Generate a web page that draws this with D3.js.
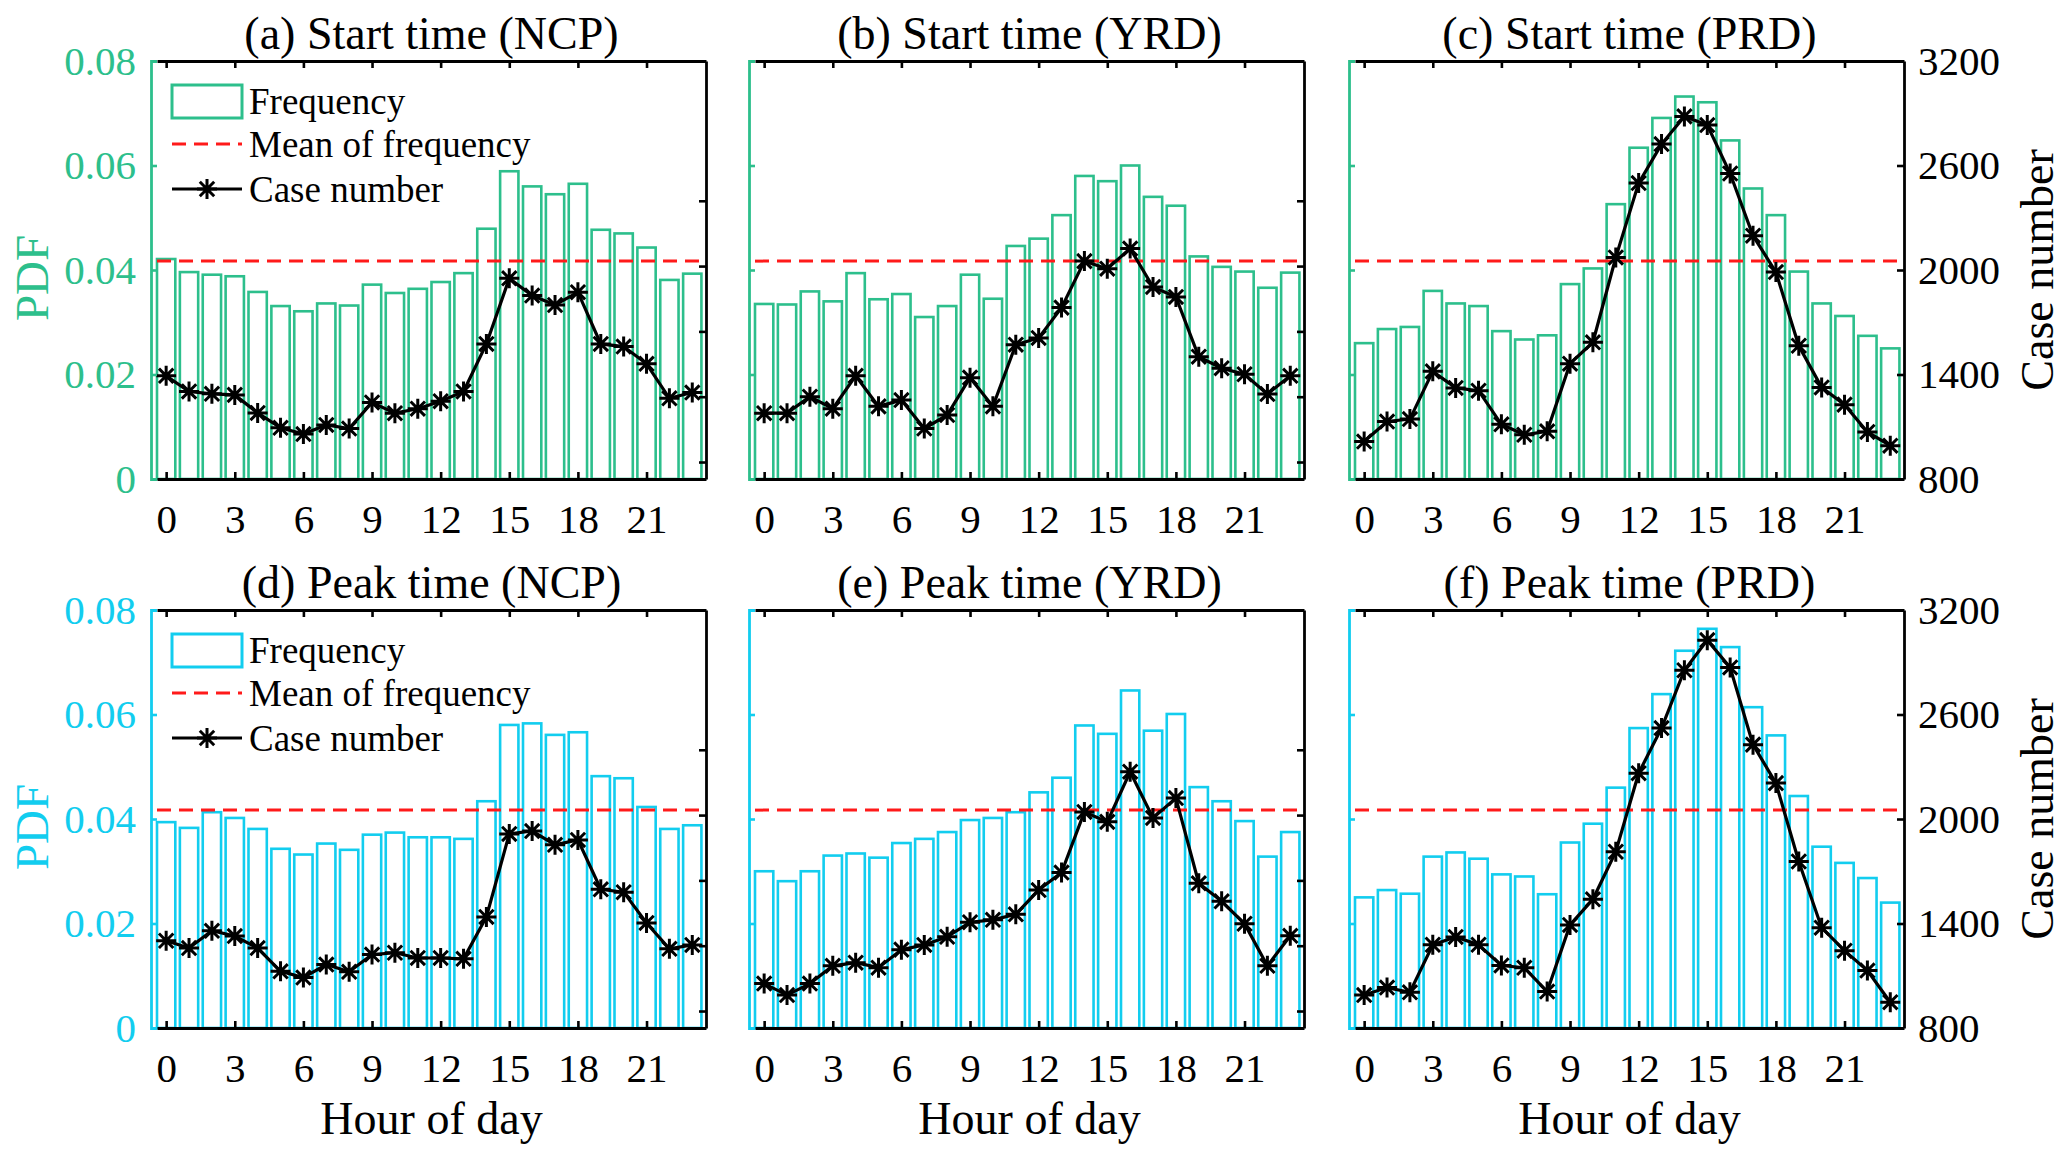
<!DOCTYPE html>
<html>
<head>
<meta charset="utf-8">
<script src="https://cdn.jsdelivr.net/npm/d3@7"></script>
<style>
  body { margin: 0; background: #fff; }
  text { font-family: "Liberation Serif", "Times New Roman", serif; }
</style>
</head>
<body>
<svg id="chart"></svg>
<script>
// hours of the day (categories)
const hours = [0,1,2,3,4,5,6,7,8,9,10,11,12,13,14,15,16,17,18,19,20,21,22,23];
const xTicks = [0,3,6,9,12,15,18,21];
const pdfTicks = [0, 0.02, 0.04, 0.06, 0.08];
const caseTicksShown = [800, 1400, 2000, 2600, 3200];
const caseTicksHidden = [500, 750, 1000, 1250, 1500];
const meanFreq = 0.0417;

const titles = ["(a) Start time (NCP)", "(b) Start time (YRD)", "(c) Start time (PRD)",
                "(d) Peak time (NCP)", "(e) Peak time (YRD)", "(f) Peak time (PRD)"];

// PDF of frequency
const pdfStartNCP = [0.0421,0.0396,0.0391,0.0388,0.0358,0.0331,0.0321,0.0336,0.0332,0.0372,0.0356,0.0364,0.0377,0.0394,0.0479,0.0589,0.0560,0.0545,0.0565,0.0477,0.0470,0.0443,0.0381,0.0393];
const pdfStartYRD = [0.0335,0.0334,0.0359,0.0340,0.0394,0.0344,0.0354,0.0310,0.0331,0.0391,0.0345,0.0446,0.0460,0.0505,0.0580,0.0570,0.0600,0.0540,0.0523,0.0426,0.0406,0.0397,0.0366,0.0395];
const pdfStartPRD = [0.0260,0.0287,0.0291,0.0360,0.0336,0.0331,0.0283,0.0267,0.0275,0.0373,0.0403,0.0526,0.0634,0.0691,0.0732,0.0721,0.0648,0.0556,0.0505,0.0397,0.0336,0.0312,0.0274,0.0250];
const pdfPeakNCP  = [0.0394,0.0383,0.0413,0.0402,0.0381,0.0343,0.0332,0.0353,0.0341,0.0370,0.0374,0.0365,0.0365,0.0362,0.0434,0.0580,0.0583,0.0561,0.0566,0.0482,0.0478,0.0423,0.0381,0.0388];
const pdfPeakYRD  = [0.0300,0.0281,0.0300,0.0330,0.0334,0.0326,0.0354,0.0362,0.0375,0.0398,0.0402,0.0413,0.0451,0.0479,0.0579,0.0563,0.0646,0.0569,0.0601,0.0461,0.0434,0.0396,0.0328,0.0375];
const pdfPeakPRD  = [0.0250,0.0264,0.0257,0.0328,0.0336,0.0324,0.0294,0.0290,0.0256,0.0355,0.0391,0.0460,0.0574,0.0639,0.0722,0.0764,0.0729,0.0614,0.0560,0.0444,0.0347,0.0316,0.0287,0.0240];

// case number
const caseStartNCP = [830,770,761,757,688,631,607,642,628,728,687,704,733,770,952,1203,1137,1101,1150,952,942,876,744,766];
const caseStartYRD = [687,687,750,704,830,713,737,628,680,823,713,949,975,1091,1269,1240,1317,1170,1132,903,859,836,760,830];
const caseStartPRD = [1015,1130,1144,1418,1323,1307,1114,1054,1074,1462,1585,2072,2499,2723,2882,2832,2554,2197,1988,1565,1326,1227,1070,991];
const casePeakNCP  = [769,741,807,787,741,652,628,678,650,716,723,703,703,700,860,1178,1189,1136,1155,966,955,837,738,753];
const casePeakYRD  = [605,561,605,673,685,666,735,753,784,840,849,870,963,1030,1262,1224,1416,1239,1315,989,920,834,673,788];
const casePeakPRD  = [989,1032,1005,1278,1323,1278,1159,1146,1009,1392,1539,1812,2263,2522,2854,3027,2870,2427,2206,1756,1376,1244,1130,948];

const green = "#2DBF8C", cyan = "#12CDEF", red = "#FF1A1A";

const panels = [
  { title: titles[0], pdf: pdfStartNCP, cases: caseStartNCP, row: 0, col: 0 },
  { title: titles[1], pdf: pdfStartYRD, cases: caseStartYRD, row: 0, col: 1 },
  { title: titles[2], pdf: pdfStartPRD, cases: caseStartPRD, row: 0, col: 2 },
  { title: titles[3], pdf: pdfPeakNCP,  cases: casePeakNCP,  row: 1, col: 0 },
  { title: titles[4], pdf: pdfPeakYRD,  cases: casePeakYRD,  row: 1, col: 1 },
  { title: titles[5], pdf: pdfPeakPRD,  cases: casePeakPRD,  row: 1, col: 2 }
];

const width = 2067, height = 1160;
const lefts = [157, 755, 1355], tops = [61, 610];
const W = 549, H = 418;

const svg = d3.select("#chart").attr("width", width).attr("height", height);

function star(r) {
  const a = r * 0.72;
  return `M${-r},0L${r},0M0,${-r}L0,${r}M${-a},${-a}L${a},${a}M${-a},${a}L${a},${-a}`;
}

panels.forEach(p => {
  const L = lefts[p.col], T = tops[p.row];
  const col = p.row === 0 ? green : cyan;
  const labelled = p.col === 2;

  const x = d3.scaleLinear().domain([-0.4, 23.6]).range([L, L + W]);
  const yL = d3.scaleLinear().domain([0, 0.08]).range([T + H, T]);
  const yR = d3.scaleLinear()
    .domain(labelled ? [800, 3200] : [435, 2035])
    .range([T + H, T]);

  const g = svg.append("g");

  // bars
  g.selectAll("rect.bar")
    .data(hours)
    .enter().append("rect")
    .attr("class", "bar")
    .attr("x", h => x(h - 0.4))
    .attr("width", x(0.8) - x(0))
    .attr("y", h => yL(p.pdf[h]))
    .attr("height", h => yL(0) - yL(p.pdf[h]))
    .attr("fill", "#fff")
    .attr("stroke", col)
    .attr("stroke-width", 2.6);

  // mean line
  g.append("line")
    .attr("x1", L).attr("x2", L + W)
    .attr("y1", yL(meanFreq)).attr("y2", yL(meanFreq))
    .attr("stroke", red).attr("stroke-width", 3)
    .attr("stroke-dasharray", "14,8");

  // case number line
  g.append("path")
    .datum(hours)
    .attr("fill", "none")
    .attr("stroke", "#000")
    .attr("stroke-width", 3.2)
    .attr("d", d3.line().x(h => x(h)).y(h => yR(p.cases[h])));

  g.selectAll("path.mk")
    .data(hours)
    .enter().append("path")
    .attr("class", "mk")
    .attr("transform", h => `translate(${x(h)},${yR(p.cases[h])})`)
    .attr("d", star(10))
    .attr("stroke", "#000")
    .attr("stroke-width", 3);

  // axes
  const bottom = g.append("g")
    .attr("transform", `translate(0,${T + H})`)
    .call(d3.axisBottom(x).tickValues(xTicks).tickSizeInner(-7).tickSizeOuter(0).tickPadding(25));
  const top = g.append("g")
    .attr("transform", `translate(0,${T})`)
    .call(d3.axisTop(x).tickValues(xTicks).tickSizeInner(-7).tickSizeOuter(0).tickFormat(""));
  const right = g.append("g")
    .attr("transform", `translate(${L + W},0)`)
    .call(d3.axisRight(yR).tickValues(labelled ? caseTicksShown : caseTicksHidden)
      .tickSizeInner(-7).tickSizeOuter(0).tickPadding(14)
      .tickFormat(labelled ? d3.format("d") : ""));
  const left = g.append("g")
    .attr("transform", `translate(${L - 6},0)`)
    .call(d3.axisLeft(yL).tickValues(pdfTicks).tickSizeInner(-6).tickSizeOuter(-6).tickPadding(15)
      .tickFormat(p.col === 0 ? (d => d === 0 ? "0" : d.toFixed(2)) : ""));

  [bottom, top, right].forEach(a => {
    a.select(".domain").attr("stroke", "#000").attr("stroke-width", 2.8);
    a.selectAll(".tick line").attr("stroke", "#000").attr("stroke-width", 2.6);
    a.selectAll(".tick text").attr("fill", "#000").style("font-size", "41px")
      .style("font-family", '"Liberation Serif", serif');
  });
  left.select(".domain").attr("stroke", col).attr("stroke-width", 2.8);
  left.selectAll(".tick line").attr("stroke", col).attr("stroke-width", 2.6);
  left.selectAll(".tick text").attr("fill", col).style("font-size", "41px")
    .style("font-family", '"Liberation Serif", serif');

  // title
  g.append("text")
    .attr("x", L + W / 2).attr("y", T - 12)
    .attr("text-anchor", "middle")
    .style("font-size", "46px")
    .text(p.title);

  if (p.row === 1) {
    g.append("text")
      .attr("x", L + W / 2).attr("y", 1134)
      .attr("text-anchor", "middle")
      .style("font-size", "46px")
      .text("Hour of day");
  }

  if (p.col === 0) {
    g.append("text")
      .attr("transform", `translate(48,${T + H / 2 + 8}) rotate(-90)`)
      .attr("text-anchor", "middle")
      .attr("fill", col)
      .style("font-size", "47px")
      .text("PDF");

    // legend
    const lg = g.append("g").attr("transform", `translate(${L},${T})`);
    lg.append("rect")
      .attr("x", 15).attr("y", 24).attr("width", 70).attr("height", 33)
      .attr("fill", "#fff").attr("stroke", col).attr("stroke-width", 3);
    lg.append("line")
      .attr("x1", 15).attr("x2", 85).attr("y1", 83).attr("y2", 83)
      .attr("stroke", red).attr("stroke-width", 3).attr("stroke-dasharray", "14,8");
    lg.append("line")
      .attr("x1", 15).attr("x2", 85).attr("y1", 128).attr("y2", 128)
      .attr("stroke", "#000").attr("stroke-width", 3.2);
    lg.append("path")
      .attr("transform", "translate(50,128)")
      .attr("d", star(10)).attr("stroke", "#000").attr("stroke-width", 3);
    const items = ["Frequency", "Mean of frequency", "Case number"];
    const rowY = [40, 83, 128];
    lg.selectAll("text.lt")
      .data(items)
      .enter().append("text")
      .attr("class", "lt")
      .attr("x", 92)
      .attr("y", (d, i) => rowY[i] + 13)
      .style("font-size", "37px")
      .text(d => d);
  }

  if (labelled) {
    g.append("text")
      .attr("transform", `translate(2053,${T + H / 2}) rotate(-90)`)
      .attr("text-anchor", "middle")
      .style("font-size", "46px")
      .text("Case number");
  }
});
</script>
</body>
</html>
